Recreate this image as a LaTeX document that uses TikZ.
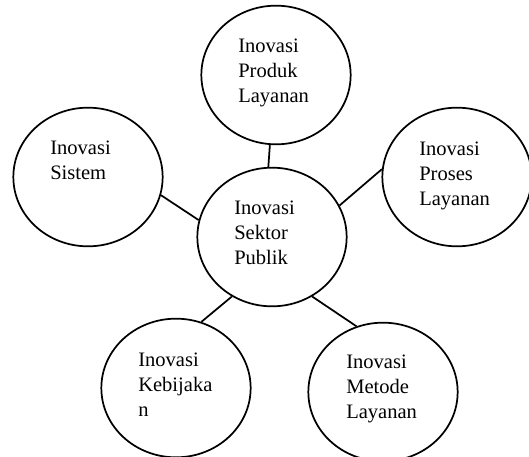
\documentclass[tikz,border=0pt]{standalone}
\usepackage{fontspec}
\setmainfont{Liberation Serif}
\usetikzlibrary{shapes.geometric}

\begin{document}
\begin{tikzpicture}[x=0.75pt,y=-0.75pt,
    bubble/.style={ellipse,draw,line width=1.3pt,minimum width=112pt,minimum height=104pt,inner sep=0pt},
    link/.style={line width=1.3pt},
    label/.style={anchor=base west,align=left,inner sep=0pt,font=\fontsize{15.4}{18.75}\selectfont}]
    \useasboundingbox (0,0) rectangle (529,457);
    % ellipses
    \node[bubble] (publik) at (272,237) {};
    \node[bubble] (produk) at (276,75) {};
    \node[bubble] (sistem) at (88,177) {};
    \node[bubble] (proses) at (457,177) {};
    \node[bubble] (kebijakan) at (176,388) {};
    \node[bubble] (metode) at (383,392) {};
    % texts (placed at baseline of last line)
    \node[label] (t-publik) at (234,264) {Inovasi\\Sektor\\Publik};
    \node[label] (t-produk) at (238,102) {Inovasi\\Produk\\Layanan};
    \node[label] (t-sistem) at (50,179) {Inovasi\\Sistem};
    \node[label] (t-proses) at (419,205) {Inovasi\\Proses\\Layanan};
    \node[label] (t-kebijakan) at (138,416) {Inovasi\\Kebijaka\\n};
    \node[label] (t-metode) at (346,418) {Inovasi\\Metode\\Layanan};
    % connectors
    \draw[link] (publik.93) -- (produk.-95);
    \draw[link] (publik.167) -- (sistem.-14);
    \draw[link] (publik.25) -- (proses.174);
    \draw[link] (publik.-124) -- (kebijakan.69);
    \draw[link] (publik.-56) -- (metode.112);
\end{tikzpicture}
\end{document}
